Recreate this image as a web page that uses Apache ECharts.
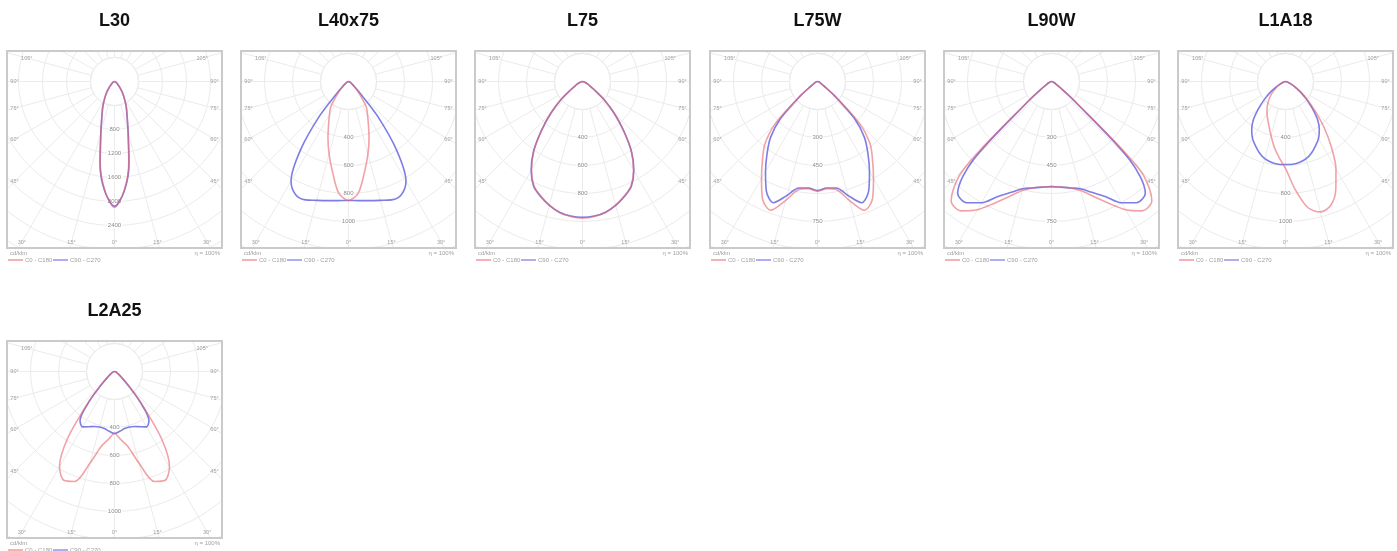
<!DOCTYPE html>
<html><head><meta charset="utf-8">
<script src="https://cdn.jsdelivr.net/npm/echarts@6/dist/echarts.min.js"></script>
<style>
html,body{margin:0;padding:0;background:#fff;overflow:hidden;width:1397px;height:551px;}
.p{position:absolute;}
</style>
</head><body>
<script>
// ---------------- DATA ----------------
// gamma angles (deg from nadir) at which intensities (cd/klm) are given
const gammas = [0,5,10,15,20,25,30,35,40,45,50,55,60,65,70,75,80,85,90];
const titles = ['L30','L40x75','L75','L75W','L90W','L1A18','L2A25'];
// ring (tick) step of the intensity scale, cd/klm
const ringSteps = [400,200,200,150,150,200,200];
// which rings carry a tick label
const ringLabelIdx = [[2,3,4,5,6],[2,3,4,5],[2,3,4],[2,3,5],[2,3,5],[2,4,5],[2,3,4,5]];
const angleLabels = [105,90,75,60,45,30,15,0];

// C0-C180 plane (left = C180 side, right = C0 side) and C90-C270 plane
const L30_c0 = [2100,1830,1370,870,620,470,330,230,150,100,65,50,35,25,17,12,7,3,0];
const L30_c90 = [2080,1840,1390,880,610,460,330,235,155,100,65,50,35,25,17,12,7,3,0];

const L40x75_c0 = [850,800,657,536,429,336,271,221,136,86,50,29,21,14,11,7,4,2,0];
const L40x75_c90 = [850,854,864,879,900,893,821,600,321,107,50,29,21,14,11,7,4,2,0];

const L75_c0 = [976,968,950,914,871,821,729,607,457,321,200,100,57,36,21,14,7,4,0];
const L75_c90 = [970,965,948,916,875,826,733,610,455,318,198,100,57,36,21,14,7,4,0];

const L75W_c0 = [589,576,589,659,734,696,600,514,439,321,129,43,21,16,11,8,5,3,0];
const L75W_c90 = [584,573,579,632,691,648,557,471,391,279,118,43,21,16,11,8,5,3,0];

const L90W_c0 = [563,568,579,605,654,718,793,846,836,670,161,54,27,16,11,8,5,3,0];
const L90W_c90 = [563,568,579,595,632,680,750,793,782,589,150,54,27,16,11,8,5,3,0];

const L1A18_c0 = [621,771,914,964,943,850,721,571,429,300,207,136,86,50,29,18,11,5,0];
const L1A18_c180 = [621,543,471,400,343,300,264,229,193,157,121,86,57,36,21,14,7,4,0];
const L1A18_c90 = [593,593,586,571,543,507,471,421,357,271,193,129,79,43,21,14,7,4,0];

const L2A25_c0 = [443,486,543,679,836,857,786,586,300,143,71,43,29,21,14,11,7,4,0];
const L2A25_c90 = [443,429,414,411,418,436,457,429,286,129,64,36,21,18,14,11,7,4,0];

// [C180 side, C0 side, C270 side, C90 side]
const curves = [
  [L30_c0, L30_c0, L30_c90, L30_c90],
  [L40x75_c0, L40x75_c0, L40x75_c90, L40x75_c90],
  [L75_c0, L75_c0, L75_c90, L75_c90],
  [L75W_c0, L75W_c0, L75W_c90, L75W_c90],
  [L90W_c0, L90W_c0, L90W_c90, L90W_c90],
  [L1A18_c180, L1A18_c0, L1A18_c90, L1A18_c90],
  [L2A25_c0, L2A25_c0, L2A25_c90, L2A25_c90]
];

// ---------------- LAYOUT / STYLE ----------------
const ringPx = [24,28,28,28,28,28,28];
const RED = '#e8646c', BLUE = '#5c5ce0', GRID = '#ebebeb', LBL = '#a0a0a0';
const FONT = '"Liberation Sans", Arial, sans-serif';

function curveData(left, right) {
  const d = [];
  for (let k = gammas.length - 1; k >= 1; k--) d.push([left[k], 360 - gammas[k]]);
  for (let k = 0; k < gammas.length; k++) d.push([right[k], gammas[k]]);
  return d;
}

function build(i) {
  const row = i < 6 ? 0 : 1, col = i < 6 ? i : 0;
  const divLeft = Math.round(col * 234.2), divTop = row * 290;
  const W = Math.min(228, 1397 - divLeft), H = row === 0 ? 290 : 261;
  const div = document.createElement('div');
  div.className = 'p';
  div.style.left = divLeft + 'px'; div.style.top = divTop + 'px';
  div.style.width = W + 'px'; div.style.height = H + 'px';
  document.body.appendChild(div);
  const chart = echarts.init(div, null, {renderer: 'canvas', width: W, height: H});

  const bx0 = 7, by0 = 51, bw = 215, bh = 197, bx1 = bx0 + bw, by1 = by0 + bh;
  const cx = bx0 + bw / 2, cy = by0 + 30.5;
  const sp = ringPx[i], step = ringSteps[i];
  const N = Math.ceil(Math.hypot(bw / 2, by1 - cy) / sp) + 1;
  const R = N * sp;
  const lblSet = new Set(ringLabelIdx[i]);

  const g = [];
  g.push({type: 'circle', z: 1, silent: true, shape: {cx: cx, cy: cy, r: sp},
    style: {fill: '#fff', stroke: GRID, lineWidth: 1}});
  const mask = (x, y, w, h) => g.push({type: 'rect', z: 10, silent: true, shape: {x, y, width: w, height: h}, style: {fill: '#fff'}});
  mask(0, 0, W, by0); mask(0, by1, W, H - by1); mask(0, 0, bx0, H); mask(bx1, 0, W - bx1, H);
  g.push({type: 'rect', z: 11, silent: true, shape: {x: bx0, y: by0, width: bw, height: bh},
    style: {fill: 'none', stroke: '#cacaca', lineWidth: 2}});
  g.push({type: 'text', z: 12, x: cx, y: 21.5, style: {text: titles[i], font: 'bold 18px ' + FONT,
    fill: '#111', align: 'center', verticalAlign: 'middle', textAlign: 'center', textVerticalAlign: 'middle'}});
  const ix0 = bx0 + 7.5, ix1 = bx1 - 7.5, iy0 = by0 + 7, iy1 = by1 - 6;
  angleLabels.forEach(a => {
    [-1, 1].forEach(s => {
      if (a === 0 && s === 1) return;
      const dx = Math.sin(a * Math.PI / 180) * s, dy = Math.cos(a * Math.PI / 180);
      let t = Infinity;
      if (Math.abs(dx) > 1e-6) t = Math.min(t, ((s < 0 ? ix0 : ix1) - cx) / dx);
      if (dy > 1e-6) t = Math.min(t, (iy1 - cy) / dy);
      if (dy < -1e-6) t = Math.min(t, (iy0 - cy) / dy);
      let x = cx + dx * t, y = cy + dy * t;
      y = Math.max(iy0, Math.min(iy1, y));
      g.push({type: 'text', z: 12, x: x, y: y, style: {text: a + '°', font: '5.5px ' + FONT, fill: LBL,
        align: 'center', verticalAlign: 'middle', textAlign: 'center', textVerticalAlign: 'middle'}});
    });
  });
  const ly1 = by1 + 5, ly2 = by1 + 12;
  g.push({type: 'text', z: 12, x: bx0 + 3, y: ly1, style: {text: 'cd/klm', font: '6px ' + FONT, fill: LBL,
    align: 'left', verticalAlign: 'middle', textAlign: 'left', textVerticalAlign: 'middle'}});
  g.push({type: 'text', z: 12, x: bx1 - 2, y: ly1, style: {text: 'η = 100%', font: '6px ' + FONT, fill: LBL,
    align: 'right', verticalAlign: 'middle', textAlign: 'right', textVerticalAlign: 'middle'}});
  g.push({type: 'line', z: 12, shape: {x1: bx0 + 1, y1: ly2, x2: bx0 + 16, y2: ly2}, style: {stroke: RED, lineWidth: 1}});
  g.push({type: 'text', z: 12, x: bx0 + 18, y: ly2, style: {text: 'C0 - C180', font: '6px ' + FONT, fill: LBL,
    align: 'left', verticalAlign: 'middle', textAlign: 'left', textVerticalAlign: 'middle'}});
  g.push({type: 'line', z: 12, shape: {x1: bx0 + 46, y1: ly2, x2: bx0 + 61, y2: ly2}, style: {stroke: BLUE, lineWidth: 1}});
  g.push({type: 'text', z: 12, x: bx0 + 63, y: ly2, style: {text: 'C90 - C270', font: '6px ' + FONT, fill: LBL,
    align: 'left', verticalAlign: 'middle', textAlign: 'left', textVerticalAlign: 'middle'}});

  const c = curves[i];
  chart.setOption({
    animation: false,
    backgroundColor: '#fff',
    polar: {center: [cx, cy], radius: R},
    angleAxis: {type: 'value', min: 0, max: 360, interval: 15, startAngle: 270, clockwise: false, z: 0,
      axisLine: {show: false}, axisTick: {show: false}, axisLabel: {show: false},
      splitLine: {show: true, lineStyle: {color: GRID, width: 1}}},
    radiusAxis: {type: 'value', min: 0, max: N * step, interval: step, z: 2,
      axisLine: {show: false}, axisTick: {show: false},
      axisLabel: {show: true, margin: 0, align: 'center', verticalAlign: 'middle', fontSize: 6, color: '#8a8a8a',
        fontFamily: FONT, backgroundColor: '#fff', padding: [0, 1],
        formatter: (v) => lblSet.has(Math.round(v / step)) ? String(v) : ''},
      splitLine: {show: true, lineStyle: {color: GRID, width: 1}}},
    series: [
      {name: 'C90 - C270', type: 'line', coordinateSystem: 'polar', z: 3, showSymbol: false, smooth: 0.3, silent: true,
        data: curveData(c[2], c[3]), lineStyle: {color: BLUE, width: 1.6, opacity: 0.8}},
      {name: 'C0 - C180', type: 'line', coordinateSystem: 'polar', z: 3, showSymbol: false, smooth: 0.3, silent: true,
        data: curveData(c[0], c[1]), lineStyle: {color: RED, width: 1.6, opacity: 0.6}}
    ],
    graphic: {elements: g}
  });
}
for (let i = 0; i < titles.length; i++) build(i);
</script>
</body></html>
